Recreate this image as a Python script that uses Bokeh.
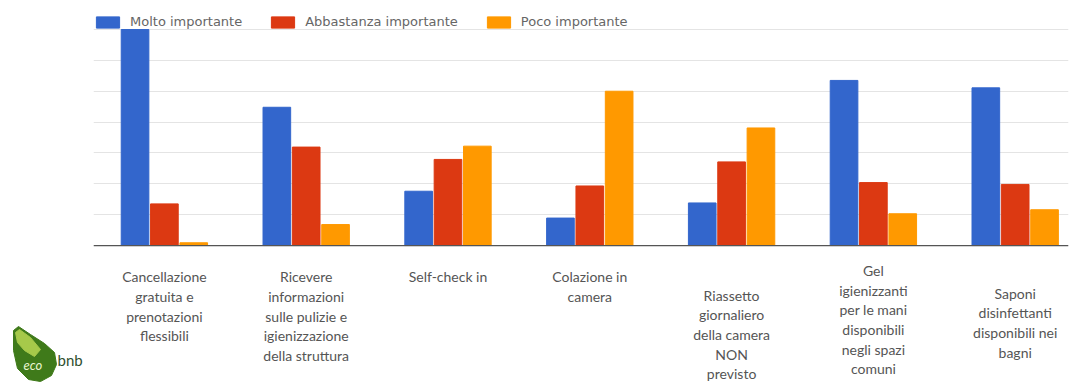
from bokeh.plotting import figure
from bokeh.layouts import row
from bokeh.models import (ColumnDataSource, Range1d, FixedTicker, Span, Legend,
                          LegendItem)
from bokeh.transform import dodge
from bokeh.core.properties import value
from bokeh.embed import file_html
from bokeh.resources import INLINE

# ---------------- data ----------------
categories = [
    "Cancellazione\ngratuita e\nprenotazioni\nflessibili",
    "Ricevere\ninformazioni\nsulle pulizie e\nigienizzazione\ndella struttura",
    "Self-check in",
    "Colazione in\ncamera",
    "Riassetto\ngiornaliero\ndella camera\nNON\nprevisto",
    "Gel\nigienizzanti\nper le mani\ndisponibili\nnegli spazi\ncomuni",
    "Saponi\ndisinfettanti\ndisponibili nei\nbagni",
]
molto = [70.0, 44.8, 17.6, 8.9, 13.8, 53.5, 51.1]
abbastanza = [13.5, 31.9, 27.9, 19.3, 27.1, 20.4, 19.8]
poco = [0.9, 6.8, 32.2, 50.0, 38.1, 10.3, 11.6]
series_names = ["Molto importante", "Abbastanza importante", "Poco importante"]
grid_ticks = [0, 10, 20, 30, 40, 50, 60, 70]

# layout (label top positions in y units, below the baseline)
label_top = [-7.3, -7.3, -7.3, -7.3, -13.3, -5.3, -12.7]

colors = ["#3366cc", "#dc3912", "#ff9900"]

xs = list(range(len(categories)))
src = ColumnDataSource(dict(x=xs, molto=molto, abbastanza=abbastanza, poco=poco,
                            label=categories, ly=label_top))

p = figure(width=995, height=387, output_backend="svg", toolbar_location=None,
           x_range=Range1d(-0.5, 6.376), y_range=Range1d(-46.0, 79.4),
           min_border_left=0, min_border_right=20, min_border_top=0,
           min_border_bottom=0)
p.outline_line_color = None
p.background_fill_color = "white"
p.border_fill_color = "white"
p.xaxis.visible = False
p.yaxis.visible = False
p.xgrid.visible = False
p.yaxis.ticker = FixedTicker(ticks=grid_ticks)
p.ygrid.ticker = FixedTicker(ticks=grid_ticks)
p.ygrid.bounds = (0, 70)
p.ygrid.grid_line_color = "#e4e4e4"
p.ygrid.grid_line_width = 1

bw = 0.195
off = 0.207
r1 = p.vbar(x=dodge("x", -off, range=p.x_range), top="molto", width=bw,
            source=src, color=colors[0])
r2 = p.vbar(x=dodge("x", 0, range=p.x_range), top="abbastanza", width=bw,
            source=src, color=colors[1])
r3 = p.vbar(x=dodge("x", off, range=p.x_range), top="poco", width=bw,
            source=src, color=colors[2])

p.add_layout(Span(location=0, dimension="width", line_color="#555555",
                  line_width=1.2))

p.text(x="x", y="ly", text="label", source=src, text_align="center",
       text_baseline="top", text_font=value("Lato"), text_font_size="14px",
       text_color="#555555", text_line_height=1.16)

legend = Legend(items=[LegendItem(label=series_names[0], renderers=[r1]),
                       LegendItem(label=series_names[1], renderers=[r2]),
                       LegendItem(label=series_names[2], renderers=[r3])],
                orientation="horizontal", location=(0, 358),
                glyph_width=29, glyph_height=14, label_standoff=8, spacing=26,
                padding=0, margin=0, border_line_color=None,
                background_fill_color="white", background_fill_alpha=1.0,
                label_text_font="DejaVu Sans", label_text_font_size="13px",
                label_text_color="#666666", label_height=14)
p.add_layout(legend, "center")

# ---------------- logo ----------------
lg = figure(width=93, height=387, output_backend="svg", toolbar_location=None,
            x_range=Range1d(0, 93), y_range=Range1d(387, 0),
            min_border=0)
lg.outline_line_color = None
lg.axis.visible = False
lg.grid.visible = False
lg.patch([13, 18, 30, 44, 54, 56, 51, 40, 28, 17, 13],
         [330, 326, 334, 343, 352, 364, 375, 381, 379, 368, 350],
         color="#3f7a1a")
lg.patch([15, 19, 30, 40, 34, 24, 17],
         [332, 329, 337, 349, 356, 350, 342], color="#a6c94a")
lg.text(x=[23], y=[364], text=["eco"], text_font=value("Lato"),
        text_font_style="italic", text_font_size="13px", text_color="#e8f5d0",
        text_baseline="middle")
lg.text(x=[57], y=[359], text=["bnb"], text_font=value("Lato"),
        text_font_size="15px", text_color="#2f4f2f", text_baseline="middle")

layout = row(lg, p, spacing=0)
open("out.html", "w").write(file_html(layout, INLINE))
